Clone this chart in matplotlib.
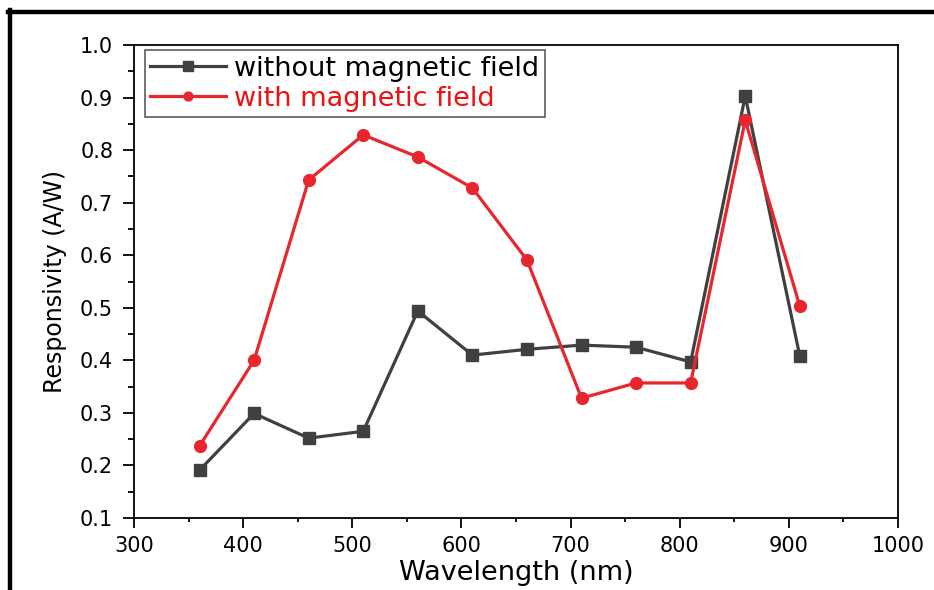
import matplotlib
matplotlib.use("Agg")
import matplotlib.pyplot as plt
from matplotlib.lines import Line2D
from matplotlib.ticker import MultipleLocator

# wide sans face, the reference text is drawn rather wide
plt.rcParams['font.family'] = ['DejaVu Sans']

# data
wavelength = [360, 410, 460, 510, 560, 610, 660, 710, 760, 810, 860, 910]
without_field = [0.191, 0.299, 0.252, 0.265, 0.494, 0.410, 0.421, 0.429, 0.425, 0.397, 0.903, 0.408]
with_field = [0.237, 0.400, 0.743, 0.829, 0.787, 0.728, 0.591, 0.328, 0.357, 0.357, 0.857, 0.503]

dark = '#404040'
red = '#e8262d'

fig = plt.figure(figsize=(9.34, 5.9), dpi=100)
ax = fig.add_axes([0.1435, 0.122, 0.818, 0.8017])

ax.plot(wavelength, without_field, color=dark, lw=2.3, marker='s', ms=9,
        label='without magnetic field')
ax.plot(wavelength, with_field, color=red, lw=2.3, marker='o', ms=8.5,
        label='with magnetic field')

ax.set_xlim(300, 1000)
ax.set_ylim(0.1, 1.0)
ax.xaxis.set_major_locator(MultipleLocator(100))
ax.xaxis.set_minor_locator(MultipleLocator(50))
ax.yaxis.set_major_locator(MultipleLocator(0.1))
ax.yaxis.set_minor_locator(MultipleLocator(0.05))
ax.tick_params(which='major', direction='out', width=1.3, labelsize=15)
ax.tick_params(axis='y', which='major', length=8, pad=7)
ax.tick_params(axis='x', which='major', length=7, pad=6)
ax.tick_params(axis='y', which='minor', direction='out', length=4.5, width=1.3)
ax.tick_params(axis='x', which='minor', direction='out', length=3, width=1.3)
ax.tick_params(top=False, right=False, which='both')
for s in ax.spines.values():
    s.set_linewidth(1.3)
ax.set_yticks(ax.get_yticks())
ax.set_yticklabels(['%.1f' % v for v in ax.get_yticks()])
ax.set_ylim(0.1, 1.0)

ax.set_xlabel('Wavelength (nm)', fontsize=19.5, labelpad=3)
ax.set_ylabel('Responsivity (A/W)', fontsize=17, labelpad=9)

leg = ax.legend(loc='upper left', bbox_to_anchor=(0.0144, 0.989), fontsize=19.5,
                frameon=True, fancybox=False, edgecolor='#333333',
                handlelength=2.8, handletextpad=0.3, borderpad=0.2,
                labelspacing=0.15, borderaxespad=0.0, markerscale=0.75)
leg.get_frame().set_linewidth(1.2)
leg.get_texts()[0].set_color('black')
leg.get_texts()[1].set_color('#ee1111')

# outer frame (left and top edges of the cropped figure border)
fig.add_artist(Line2D([9.5 / 934, 9.5 / 934], [0, 1 - 10 / 590], color='black', lw=3.2,
                      transform=fig.transFigure))
fig.add_artist(Line2D([8 / 934, 1], [1 - 12 / 590, 1 - 12 / 590], color='black', lw=3.2,
                      transform=fig.transFigure))

fig.savefig('out.png', dpi=100)
